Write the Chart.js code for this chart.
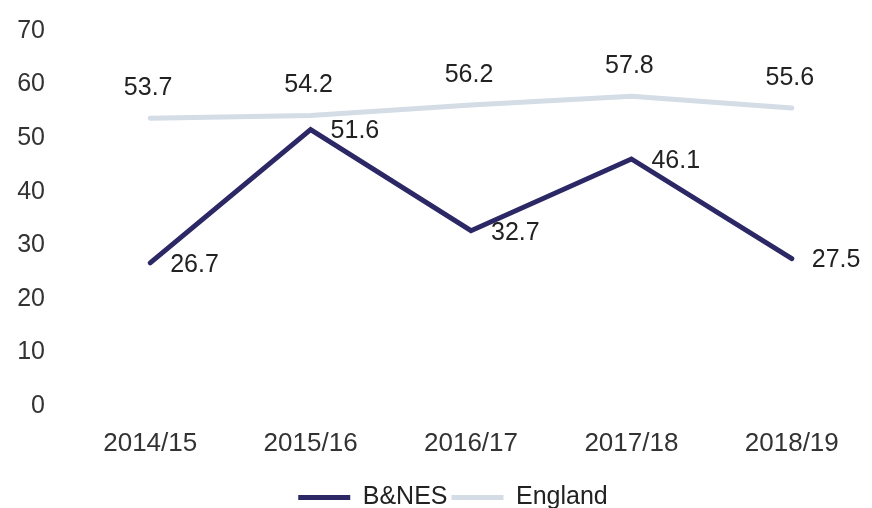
<!DOCTYPE html>
<html>
<head>
<meta charset="utf-8">
<script src="https://cdn.jsdelivr.net/npm/chart.js@4"></script>
<style>
  html, body { margin: 0; padding: 0; background: #fff; overflow: hidden; }
  #wrap { position: relative; width: 872px; height: 508px; }
</style>
</head>
<body>
<div id="wrap"><canvas id="lineChart"></canvas></div>
<script>
const years = ["2014/15", "2015/16", "2016/17", "2017/18", "2018/19"];
const banes = [26.7, 51.6, 32.7, 46.1, 27.5];
const england = [53.7, 54.2, 56.2, 57.8, 55.6];
const yMin = 0;
const yMax = 70;
const yStep = 10;

const FONT = '"Liberation Sans", Arial, Helvetica, sans-serif';

// draws the value next to every point, England above, B&NES to the right
const valueLabels = {
  id: "valueLabels",
  afterDatasetsDraw(chart) {
    const ctx = chart.ctx;
    ctx.save();
    ctx.font = "25px " + FONT;
    ctx.fillStyle = "#222";
    ctx.textBaseline = "middle";
    chart.data.datasets.forEach((ds, i) => {
      const meta = chart.getDatasetMeta(i);
      meta.data.forEach((pt, j) => {
        const txt = ds.data[j].toFixed(1);
        if (ds.label === "England") {
          ctx.textAlign = "center";
          ctx.fillText(txt, pt.x - 2, pt.y - 30);
        } else {
          ctx.textAlign = "left";
          ctx.fillText(txt, pt.x + 20, pt.y + 2);
        }
      });
    });
    ctx.restore();
  },
};

// legend sits a little right of the canvas centre in the original
const legendShift = {
  id: "legendShift",
  afterLayout(chart) {
    if (!chart.legend) return;
    chart.legend.left += 17;
    chart.legend.right += 17;
  },
};

let lineChart = null;

document.addEventListener("DOMContentLoaded", () => {
  const el = document.getElementById("lineChart");
  if (!el) return;

  lineChart = new Chart(el, {
    type: "line",
    data: {
      labels: years,
      datasets: [
        {
          label: "B&NES",
          data: banes,
          borderColor: "#2c2866",
          backgroundColor: "#2c2866",
          borderWidth: 5,
          borderCapStyle: "round",
          borderJoinStyle: "miter",
          pointRadius: 0,
          tension: 0,
        },
        {
          label: "England",
          data: england,
          borderColor: "#d4dce6",
          backgroundColor: "#d4dce6",
          borderWidth: 5,
          borderCapStyle: "round",
          pointRadius: 0,
          tension: 0,
        },
      ],
    },
    options: {
      responsive: true,
      maintainAspectRatio: false,
      animation: false,
      layout: { padding: { top: 31, right: 0, bottom: -12, left: 0 } },
      plugins: {
        tooltip: { enabled: false },
        legend: {
          position: "bottom",
          labels: {
            color: "#222",
            font: { family: FONT, size: 25 },
            boxWidth: 52,
            boxHeight: 0,
            padding: 4,
          },
        },
      },
      scales: {
        x: {
          offset: true,
          grid: { display: false, drawTicks: false },
          border: { display: false },
          ticks: {
            color: "#333",
            font: { family: FONT, size: 26 },
            padding: 22,
            maxRotation: 0,
          },
        },
        y: {
          min: yMin,
          max: yMax,
          grid: { display: false, drawTicks: false },
          border: { display: false },
          ticks: {
            stepSize: yStep,
            color: "#333",
            font: { family: FONT, size: 25 },
            padding: 25,
          },
          afterFit: (scale) => {
            scale.width = 70;
            scale.paddingTop = 0;
            scale.paddingBottom = 0;
          },
        },
      },
    },
    plugins: [valueLabels, legendShift],
  });
});
</script>
</body>
</html>
